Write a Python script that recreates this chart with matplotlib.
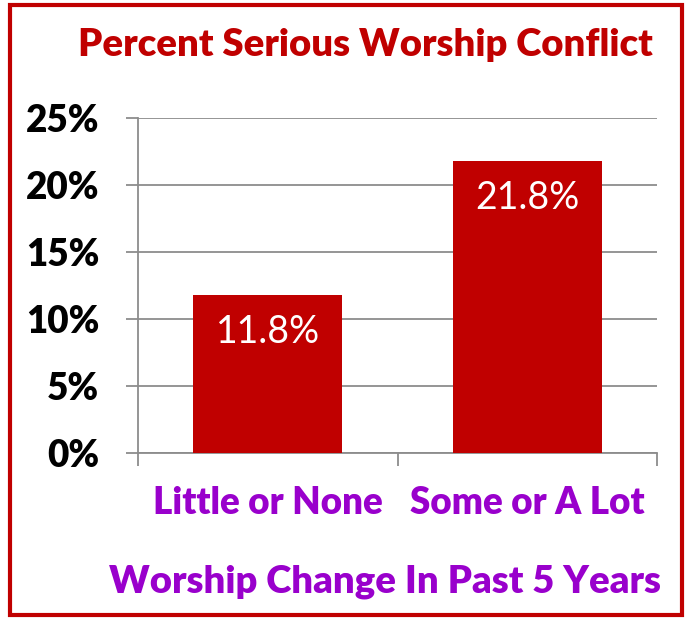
import numpy as np
import matplotlib
matplotlib.use("Agg")
import matplotlib.pyplot as plt
from matplotlib.patches import Rectangle

# data
categories = ["Little or None", "Some or A Lot"]
values = [11.8, 21.8]
yticks = [0, 5, 10, 15, 20, 25]
ytick_labels = ["0%", "5%", "10%", "15%", "20%", "25%"]

title = "Percent Serious Worship Conflict"
xlabel = "Worship Change In Past 5 Years"

red = "#C00000"
purple = "#9900CC"
grid = "#8C8C8C"

plt.rcParams["font.family"] = ["Lato", "DejaVu Sans"]

W, H = 686, 618
fig = plt.figure(figsize=(W / 100, H / 100), dpi=100)

# axes placed by pixel box of the plot area
x0, x1, ytop, ybot = 138, 657, 118, 453
ax = fig.add_axes([x0 / W, (H - ybot) / H, (x1 - x0) / W, (ybot - ytop) / H])

x = np.arange(len(categories))
bars = ax.bar(x, values, width=0.575, color=red, zorder=3)
for b, v in zip(bars, values):
    ax.text(b.get_x() + b.get_width() / 2, v - 1.4, f"{v:.1f}%",
            ha="center", va="top", color="white", fontsize=27)

ax.set_xlim(-0.5, len(categories) - 0.5)
ax.set_ylim(0, 25)
ax.set_yticks(yticks)
ax.set_yticklabels(ytick_labels, fontsize=26.5, fontweight="heavy", color="black")
ax.yaxis.grid(True, color=grid, linewidth=1.3, zorder=0)
ax.tick_params(axis="y", length=9, width=1.3, color=grid, pad=19)

# x ticks sit on the category boundaries, labels in the middle
ax.set_xticks([-0.5, 0.5, 1.5])
ax.set_xticklabels([])
ax.set_xticks(x, minor=True)
ax.set_xticklabels(categories, minor=True, fontsize=26.5, fontweight="heavy", color=purple)
ax.tick_params(axis="x", which="major", length=9, width=1.3, color=grid, direction="out")
ax.tick_params(axis="x", which="minor", length=0, pad=24)

for s in ["top", "right"]:
    ax.spines[s].set_visible(False)
for s in ["left", "bottom"]:
    ax.spines[s].set_color(grid)
    ax.spines[s].set_linewidth(1.3)

fig.text(365 / W, 1 - 45 / H, title, ha="center", va="center",
         fontsize=27.5, fontweight="heavy", color=red)
fig.text(385 / W, 1 - 582 / H, xlabel, ha="center", va="center",
         fontsize=27.5, fontweight="heavy", color=purple)

fig.patches.append(Rectangle((10 / W, 3 / H), 672 / W, 610 / H, transform=fig.transFigure,
                             fill=False, edgecolor=red, linewidth=3, zorder=10))

fig.savefig("out.png", dpi=100)
